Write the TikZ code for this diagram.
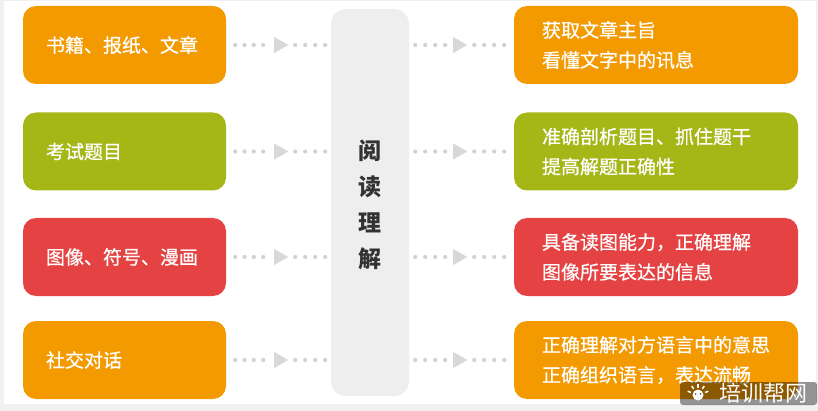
\documentclass[tikz,border=0pt]{standalone}
\usepackage{fontspec}
\setmainfont{Noto Sans CJK SC}
\newfontfamily\boxfont[FakeBold=0.6]{Noto Sans CJK SC}
\usetikzlibrary{calc}
\definecolor{orgc}{HTML}{F39A00}
\definecolor{grnc}{HTML}{A5B617}
\definecolor{redc}{HTML}{E54343}
\definecolor{midc}{HTML}{EEEEEE}
\definecolor{bgc}{HTML}{F1F1F3}
\definecolor{dotc}{HTML}{D2D2D2}
\definecolor{tric}{HTML}{D8D8D8}
\definecolor{txtc}{HTML}{333333}
\newcommand{\lconn}[1]{%
  \foreach \d in {9,18.3,27.6,37,69,79,89,99} \fill[dotc] ($(#1.east)+(\d,0)$) circle (2.1);
  \fill[tric] ($(#1.east)+(48,-8)$) -- ($(#1.east)+(62,0)$) -- ($(#1.east)+(48,8)$) -- cycle;}
\newcommand{\rconn}[1]{%
  \foreach \d in {6,16,26,36,65,75,85,95} \fill[dotc] ($(#1)+(\d,0)$) circle (2.1);
  \fill[tric] ($(#1)+(44,-8)$) -- ($(#1)+(58,0)$) -- ($(#1)+(44,8)$) -- cycle;}
\begin{document}
\begin{tikzpicture}[x=1pt,y=-1pt,
  cbox/.style={draw=none, rounded corners=13pt, minimum height=78pt, inner sep=0pt, text=white, align=left},
  lbox/.style={cbox, minimum width=203pt, text width=157pt, inner xsep=23pt, font=\boxfont\fontsize{19}{30}\selectfont},
  rbox/.style={cbox, minimum width=284pt, text width=228pt, inner xsep=28pt, font=\boxfont\fontsize{19}{30}\selectfont},
  midbox/.style={draw=none, fill=midc, rounded corners=15pt, minimum width=78pt, minimum height=387pt, inner sep=0pt},
  midtext/.style={text=txtc, align=center, font=\fontsize{23}{36}\selectfont\bfseries}]
\useasboundingbox (0,0) rectangle (818,411);
\fill[bgc] (0,0) rectangle (818,411);
\fill[white] (4,1) rectangle (816,404);
% centre
\node[midbox] (C) at (370,202.5) {};
\node[midtext] (CT) at (370,204.5) {阅\\读\\理\\解};
% left
\node[lbox, fill=orgc] (L1) at (124.5,45) {书籍、报纸、文章};
\node[lbox, fill=grnc] (L2) at (124.5,151.5) {考试题目};
\node[lbox, fill=redc] (L3) at (124.5,257) {图像、符号、漫画};
\node[lbox, fill=orgc] (L4) at (124.5,360) {社交对话};
% right
\node[rbox, fill=orgc] (R1) at (656,45) {\raisebox{-2pt}{获取文章主旨}\\\raisebox{-2pt}{看懂文字中的讯息}};
\node[rbox, fill=grnc] (R2) at (656,151.5) {\raisebox{-2pt}{准确剖析题目、抓住题干}\\\raisebox{-2pt}{提高解题正确性}};
\node[rbox, fill=redc] (R3) at (656,257) {\raisebox{-2pt}{具备读图能力，正确理解}\\\raisebox{-2pt}{图像所要表达的信息}};
\node[rbox, fill=orgc] (R4) at (656,360) {\raisebox{-2pt}{正确理解对方语言中的意思}\\\raisebox{-2pt}{正确组织语言，表达流畅}};
% connectors
\lconn{L1}\lconn{L2}\lconn{L3}\lconn{L4}
\coordinate (A1) at (C.east |- R1.west);
\coordinate (A2) at (C.east |- R2.west);
\coordinate (A3) at (C.east |- R3.west);
\coordinate (A4) at (C.east |- R4.west);
\rconn{A1}\rconn{A2}\rconn{A3}\rconn{A4}
% watermark
\fill[black, opacity=0.42, rounded corners=3pt] (680,382) rectangle (817,405);
\node[text=white, font=\fontsize{22}{22}\selectfont, anchor=west, inner sep=0pt] (WM) at (719,393.5) {培训帮网};
\fill[white] (698,395) circle (5.5);
\foreach \a in {200,235,270,305,340} \draw[white, line width=1.5pt] ($(698,395)+(\a:7.5)$) -- ($(698,395)+(\a:11)$);
\fill[black!60] (695.5,394) circle (1) (700.5,394) circle (1);
\end{tikzpicture}
\end{document}
